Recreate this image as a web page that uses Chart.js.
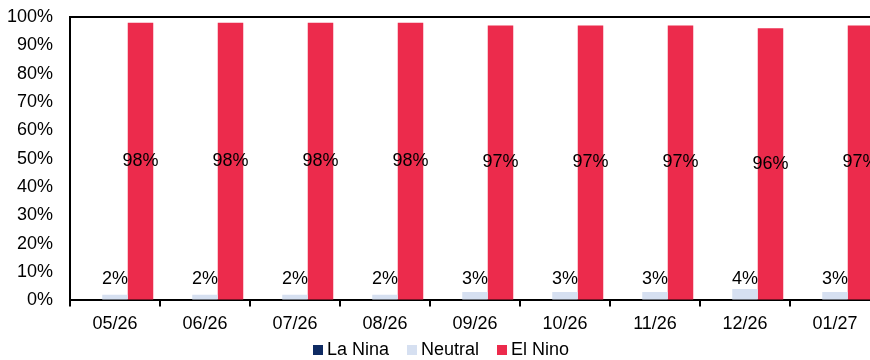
<!DOCTYPE html>
<html>
<head>
<meta charset="utf-8">
<script src="https://cdn.jsdelivr.net/npm/chart.js@4.4.1/dist/chart.umd.min.js"></script>
<style>
  html, body { margin: 0; padding: 0; background: #fff; overflow: hidden; }
  #wrap { position: relative; width: 890px; height: 360px; }
  #legend {
    position: absolute; left: 313px; top: 339px;
    font: 18px 'Liberation Sans', Arial, sans-serif; line-height: 20px;
    color: #000; white-space: nowrap;
  }
  #legend span.item { margin-right: 18px; }
  #legend i { display: inline-block; width: 10px; height: 10px; margin-right: 4px; }
</style>
</head>
<body>
<div id="wrap">
  <canvas id="chart" width="890" height="360"></canvas>
  <div id="legend"></div>
</div>
<script>
// Chart data
const months = ['05/26', '06/26', '07/26', '08/26', '09/26', '10/26', '11/26', '12/26', '01/27'];
const laNina = [0, 0, 0, 0, 0, 0, 0, 0, 0];
const neutral = [2, 2, 2, 2, 3, 3, 3, 4, 3];
const elNino = [98, 98, 98, 98, 97, 97, 97, 96, 97];
const yTicks = [0, 10, 20, 30, 40, 50, 60, 70, 80, 90, 100];

const FONT = "'Liberation Sans', Arial, sans-serif";

// Value labels: Neutral just above the axis, El Nino in the middle of the bar
const barLabels = {
    id: 'barLabels',
    afterDatasetsDraw(chart) {
        const ctx = chart.ctx;
        ctx.save();
        ctx.font = '18px ' + FONT;
        ctx.fillStyle = '#000';
        ctx.textAlign = 'center';
        chart.data.datasets.forEach((ds, i) => {
            if (i === 0) return;
            chart.getDatasetMeta(i).data.forEach((bar, j) => {
                const text = ds.data[j] + '%';
                if (i === 1) {
                    ctx.textBaseline = 'bottom';
                    ctx.fillText(text, bar.x, bar.base - 11);
                } else {
                    ctx.textBaseline = 'middle';
                    ctx.fillText(text, bar.x, (bar.y + bar.base) / 2);
                }
            });
        });
        ctx.restore();
    }
};

const chart = new Chart(document.getElementById('chart').getContext('2d'), {
    type: 'bar',
    data: {
        labels: months,
        datasets: [
            { label: 'La Nina', data: laNina, backgroundColor: '#0E2A62' },
            { label: 'Neutral', data: neutral, backgroundColor: '#D6E0F1' },
            { label: 'El Nino', data: elNino, backgroundColor: '#EC2B4C' }
        ]
    },
    options: {
        responsive: false,
        animation: false,
        layout: { padding: { top: 17, right: 10, left: 0, bottom: 18 } },
        datasets: {
            bar: { barPercentage: 1, categoryPercentage: 0.85 }
        },
        plugins: {
            legend: { display: false },
            tooltip: { enabled: false }
        },
        scales: {
            x: {
                grid: {
                    drawOnChartArea: false,
                    drawTicks: true,
                    tickLength: 6,
                    color: '#000',
                    lineWidth: 2
                },
                border: { color: '#000', width: 2 },
                ticks: { color: '#000', padding: 7, font: { family: FONT, size: 18 } }
            },
            y: {
                min: 0,
                max: 100,
                afterBuildTicks: scale => { scale.ticks = yTicks.map(v => ({ value: v })); },
                afterFit: scale => { scale.width = 70; },
                grid: {
                    drawTicks: true,
                    tickLength: 17,
                    tickColor: 'rgba(0,0,0,0)',
                    color: c => c.tick && c.tick.value === 100 ? '#000' : 'rgba(0,0,0,0)',
                    lineWidth: 2
                },
                border: { color: '#000', width: 2 },
                ticks: {
                    color: '#000',
                    padding: 0,
                    font: { family: FONT, size: 18 },
                    callback: v => v + '%'
                }
            }
        }
    },
    plugins: [barLabels]
});

// HTML legend built from the datasets
document.getElementById('legend').innerHTML = chart.data.datasets.map(ds =>
    `<span class="item"><i style="background:${ds.backgroundColor}"></i>${ds.label}</span>`
).join('');
</script>
</body>
</html>
